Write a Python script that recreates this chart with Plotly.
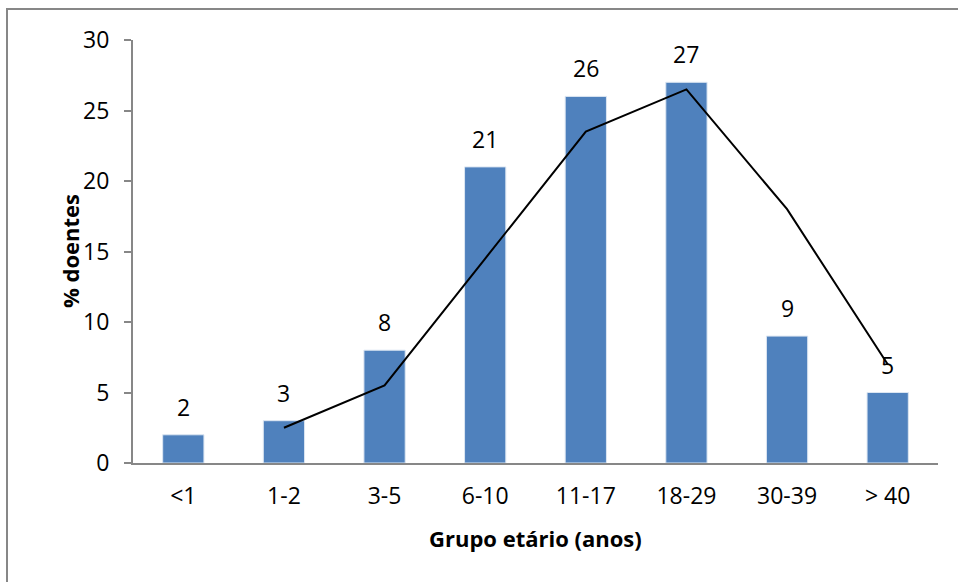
import plotly.graph_objects as go

# Age groups and share of patients (%)
age_groups = ["<1", "1-2", "3-5", "6-10", "11-17", "18-29", "30-39", "> 40"]
patients_pct = [2, 3, 8, 21, 26, 27, 9, 5]
# Two-period moving-average trend line
trend_pct = [None, 2.5, 5.5, 14.5, 23.5, 26.5, 18, 7]
y_ticks = [0, 5, 10, 15, 20, 25, 30]

FONT = "Open Sans, Calibri, Arial, sans-serif"
AXIS_GREY = "#878787"

W, H = 958, 582
L, R, T, B = 133, 20, 40, 119
PW, PH = W - L - R, H - T - B


def px_x(px):
    """Pixel column -> paper x."""
    return (px - L) / PW


def px_y(py):
    """Pixel row -> paper y."""
    return (H - B - py) / PH


fig = go.Figure()

fig.add_trace(go.Bar(
    x=age_groups,
    y=patients_pct,
    marker=dict(color="#4F81BD", line=dict(color="#DCE6F2", width=1)),
    showlegend=False,
    hoverinfo="x+y",
))

fig.add_trace(go.Scatter(
    x=age_groups,
    y=trend_pct,
    mode="lines",
    line=dict(color="black", width=2),
    connectgaps=False,
    showlegend=False,
    hoverinfo="skip",
))

# Value labels above each bar
for g, v in zip(age_groups, patients_pct):
    fig.add_annotation(
        x=g, y=v, text=str(v), showarrow=False,
        yanchor="bottom", yshift=10,
        font=dict(family=FONT, size=23, color="black"),
    )

# Axis titles
fig.add_annotation(
    xref="paper", yref="paper", x=px_x(535), y=px_y(538),
    text="<b>Grupo etário (anos)</b>", showarrow=False,
    xanchor="center", yanchor="middle",
    font=dict(family=FONT, size=22, color="black"),
)
fig.add_annotation(
    xref="paper", yref="paper", x=px_x(70), y=px_y(251),
    text="<b>% doentes</b>", showarrow=False, textangle=-90,
    xanchor="center", yanchor="middle",
    font=dict(family=FONT, size=22, color="black"),
)

# Chart-area frame
fig.add_shape(
    type="rect", xref="paper", yref="paper",
    x0=px_x(7), x1=px_x(990), y0=px_y(620), y1=px_y(9),
    line=dict(color=AXIS_GREY, width=2),
    fillcolor="rgba(0,0,0,0)", layer="below",
)

fig.update_layout(
    width=W,
    height=H,
    margin=dict(l=L, r=R, t=T, b=B),
    plot_bgcolor="white",
    paper_bgcolor="white",
    bargap=0.59,
    font=dict(family=FONT, size=23, color="black"),
    xaxis=dict(
        type="category",
        showline=True, linecolor=AXIS_GREY, linewidth=2,
        ticks="", showgrid=False,
        tickfont=dict(family=FONT, size=23),
        ticklabelstandoff=11,
    ),
    yaxis=dict(
        range=[0, 30],
        tickvals=y_ticks,
        showline=True, linecolor=AXIS_GREY, linewidth=2,
        ticks="outside", ticklen=7, tickcolor=AXIS_GREY, tickwidth=2,
        showgrid=False, zeroline=False,
        tickfont=dict(family=FONT, size=23),
        ticklabelstandoff=10,
    ),
)

fig.write_html("out.html")
